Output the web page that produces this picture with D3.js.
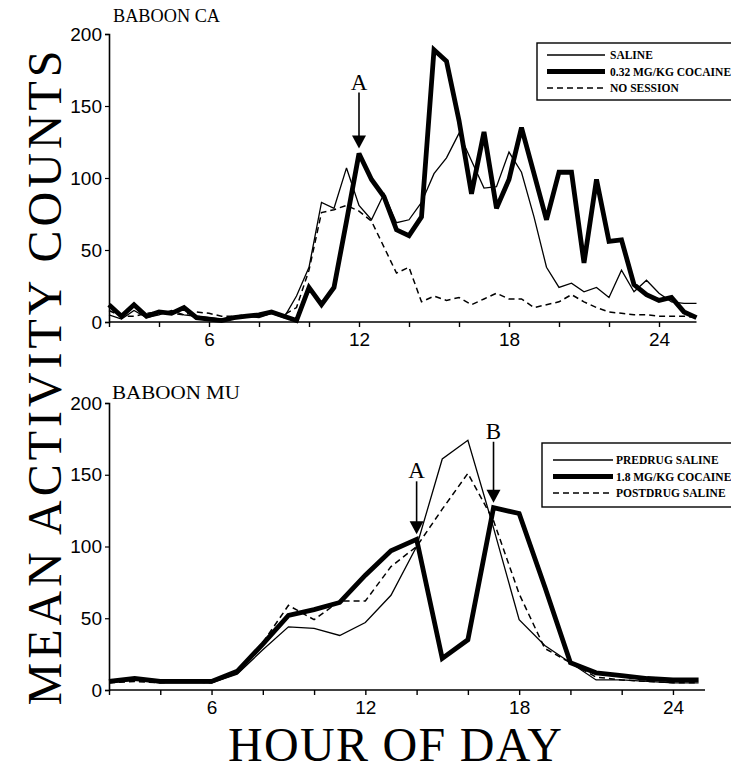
<!DOCTYPE html>
<html><head><meta charset="utf-8">
<script src="https://cdn.jsdelivr.net/npm/d3@7"></script>
<style>
body{margin:0;background:#fff;}
svg{display:block;}
text{font-family:"Liberation Serif","Times New Roman",serif;fill:#000;}
</style></head>
<body>
<svg id="chart" width="731" height="772"></svg>
<script>
// ---------- DATA ----------
const hoursTop = [2,2.5,3,3.5,4,4.5,5,5.5,6,6.5,7,7.5,8,8.5,9,9.5,10,10.5,11,11.5,12,12.5,13,13.5,14,14.5,15,15.5,16,16.5,17,17.5,18,18.5,19,19.5,20,20.5,21,21.5,22,22.5,23,23.5,24,24.5,25,25.5];
const salineCA = [5,2,8,3,5,8,5,4,3,2,3,4,3,6,3,18,38,83,79,107,81,71,89,69,71,83,103,114,131,112,93,94,118,104,73,38,24,27,21,24,17,36,21,29,20,14,13,13];
const cocaineCA = [12,4,12,4,7,6,10,3,2,1,3,4,5,7,4,1,24,12,24,70,117,99,87,64,60,73,189,181,140,89,132,79,99,135,103,71,104,104,41,99,56,57,26,19,15,17,7,3];
const noSessionCA = [8,4,4,6,7,6,5,7,6,4,4,5,4,6,5,10,36,76,78,81,77,70,52,34,38,14,18,15,17,12,16,20,16,16,10,12,14,19,14,10,7,6,5,5,4,4,4,3];

const hoursBottom = [2,3,4,5,6,7,8,9,10,11,12,13,14,15,16,17,18,19,20,21,22,23,24,25];
const predrugMU = [5,7,5,5,5,11,28,44,43,38,47,66,100,161,174,113,49,31,19,7,7,6,5,5];
const cocaineMU = [6,8,6,6,6,13,32,52,56,61,80,97,105,22,35,127,123,72,19,12,10,8,7,7];
const postdrugMU = [5,6,5,6,5,12,33,59,49,62,62,86,100,126,151,118,67,29,19,9,7,6,5,5];

const yTicks = [0,50,100,150,200];
const xTicks = [2,4,6,8,10,12,14,16,18,20,22,24];
const xTickLabels = [6,12,18,24];

const legendTop = ["SALINE","0.32 MG/KG COCAINE","NO SESSION"];
const legendBottom = ["PREDRUG SALINE","1.8 MG/KG COCAINE","POSTDRUG SALINE"];

const arrowsTop = [{label:"A", hour:12, len:56}];
const arrowsBottom = [{label:"A", hour:14, len:53}, {label:"B", hour:17, len:61}];

// ---------- DRAW ----------
const svg = d3.select("#chart");
const styles = [
  {w:1.3, dash:null},
  {w:4.8, dash:null},
  {w:1.5, dash:"6,4"}
];

function panel(cfg){
  const g = svg.append("g");
  const x = d3.scaleLinear().domain(cfg.xDomain).range(cfg.xRange);
  const y = d3.scaleLinear().domain([0,200]).range(cfg.yRange);

  const ya = d3.axisLeft(y).tickValues(yTicks).tickSize(4).tickPadding(3);
  const gy = g.append("g").attr("transform",`translate(${cfg.xRange[0]},0)`).call(ya);
  gy.select(".domain").attr("stroke-width",1.6);
  gy.selectAll("text").style("font-size","19px").style("font-family","Liberation Sans, Arial, sans-serif");

  const xa = d3.axisBottom(x).tickValues(xTicks).tickSize(5).tickPadding(6)
    .tickFormat(d => xTickLabels.includes(d) ? d : "");
  const gx = g.append("g").attr("transform",`translate(0,${cfg.yRange[0]})`).call(xa);
  gx.select(".domain").attr("d",`M${cfg.xRange[0]},0H${cfg.xRange[1]}`).attr("stroke-width",1.6);
  gx.selectAll("line").attr("stroke-width",1.4);
  gy.selectAll("line").attr("stroke-width",1.2);
  gx.selectAll("text").style("font-size","19px").style("font-family","Liberation Sans, Arial, sans-serif");

  const line = d3.line().x((d,i)=>x(cfg.hours[i])).y(d=>y(d));
  cfg.series.forEach((s,i)=>{
    g.append("path").datum(s)
      .attr("d",line)
      .attr("fill","none").attr("stroke","#000")
      .attr("stroke-width",styles[i].w)
      .attr("stroke-linejoin","miter").attr("stroke-miterlimit",3)
      .attr("stroke-dasharray",styles[i].dash);
  });

  g.append("text").attr("x",cfg.titleX).attr("y",cfg.titleY)
    .attr("textLength",cfg.titleLen).attr("lengthAdjust","spacingAndGlyphs")
    .style("font-size","18px").text(cfg.title);

  cfg.arrows.forEach(a=>{
    const idx = cfg.hours.indexOf(a.hour);
    const v = cfg.series[1][idx];
    const ax = x(a.hour), tip = y(v)-5, top = tip - a.len;
    g.append("line").attr("x1",ax).attr("x2",ax).attr("y1",top).attr("y2",tip-10)
      .attr("stroke","#000").attr("stroke-width",1.6);
    g.append("path").attr("d",`M${ax-7},${tip-13}L${ax+7},${tip-13}L${ax},${tip}Z`).attr("fill","#000");
    g.append("text").attr("x",ax).attr("y",top-3).attr("text-anchor","middle")
      .style("font-size","23px").text(a.label);
  });

  const L = cfg.legend;
  g.append("rect").attr("x",L.x).attr("y",L.y).attr("width",L.w).attr("height",L.h)
    .attr("fill","#fff").attr("stroke","#000").attr("stroke-width",1.4);
  cfg.legendLabels.forEach((t,i)=>{
    const yy = L.y + L.row0 + i*L.rowH;
    g.append("line").attr("x1",L.x+L.lx0).attr("x2",L.x+L.lx1).attr("y1",yy).attr("y2",yy)
      .attr("stroke","#000").attr("stroke-width",styles[i].w).attr("stroke-dasharray",styles[i].dash);
    g.append("text").attr("x",L.x+L.tx).attr("y",yy+4).style("font-size","11.5px").style("font-weight","bold").text(t);
  });
}

panel({
  hours:hoursTop, series:[salineCA,cocaineCA,noSessionCA],
  xDomain:[2,25.5], xRange:[109,696.5], yRange:[322,34],
  title:"BABOON CA", titleX:113, titleY:22, titleLen:107,
  arrows:arrowsTop,
  legend:{x:537,y:43,w:230,h:57,row0:12,rowH:16.5,lx0:10,lx1:68,tx:73},
  legendLabels:legendTop
});
panel({
  hours:hoursBottom, series:[predrugMU,cocaineMU,postdrugMU],
  xDomain:[2,25.25], xRange:[109,705], yRange:[690,403],
  title:"BABOON MU", titleX:112, titleY:399, titleLen:128,
  arrows:arrowsBottom,
  legend:{x:542,y:443,w:230,h:64,row0:17,rowH:16.5,lx0:11,lx1:71,tx:74},
  legendLabels:legendBottom
});

svg.append("text").attr("transform","translate(61,378) rotate(-90)")
  .attr("text-anchor","middle").attr("textLength",655).attr("lengthAdjust","spacing")
  .style("font-size","48px").text("MEAN ACTIVITY COUNTS");
svg.append("text").attr("x",395).attr("y",761).attr("text-anchor","middle")
  .style("font-size","48px").attr("textLength",334).attr("lengthAdjust","spacing")
  .text("HOUR OF DAY");
</script>
</body></html>
